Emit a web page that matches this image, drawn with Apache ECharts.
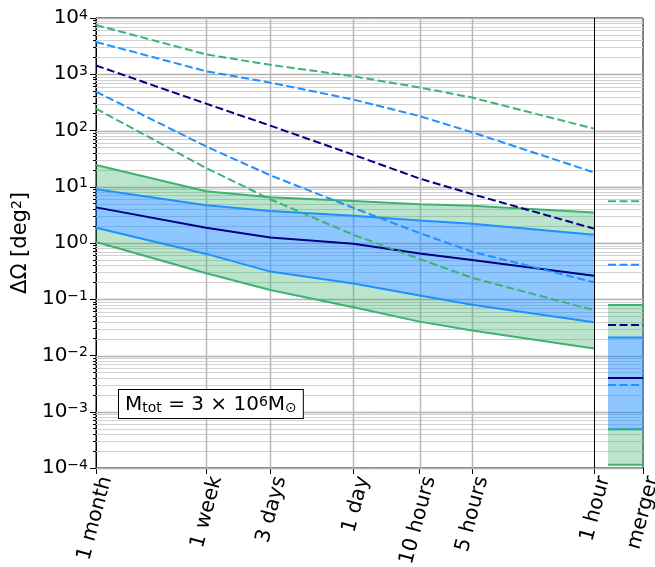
<!DOCTYPE html>
<html><head><meta charset="utf-8">
<script src="https://cdn.jsdelivr.net/npm/echarts@6/dist/echarts.min.js"></script>
<style>html,body{margin:0;padding:0;background:#fff}#c{width:655px;height:567px}</style>
</head><body><div id="c"></div><script>
// ---- data ----
const hours = [720, 168, 72, 24, 10, 5, 1];
const tickHours = [720, 168, 72, 24, 10, 5, 1];
const tickLabels = ['1 month', '1 week', '3 days', '1 day', '10 hours', '5 hours', '1 hour'];
const mergerLabel = 'merger';

const greenUpper = [24.3, 8.3, 6.5, 5.6, 4.9, 4.6, 3.5];
const blueUpper  = [9.0, 4.7, 3.7, 3.05, 2.5, 2.2, 1.40];
const navySolid  = [4.3, 1.87, 1.25, 0.97, 0.65, 0.50, 0.262];
const blueLower  = [1.87, 0.64, 0.31, 0.19, 0.117, 0.080, 0.039];
const greenLower = [1.04, 0.29, 0.146, 0.072, 0.040, 0.0278, 0.0133];

const greenDashUpper = [7500, 2250, 1470, 920, 580, 385, 108];
const blueDashUpper  = [3750, 1130, 710, 355, 180, 93, 18];
const navyDash       = [1430, 300, 122, 37, 14, 7.4, 1.8];
const blueDashLower  = [490, 52, 16, 4.2, 1.5, 0.70, 0.20];
const greenDashLower = [245, 21.5, 6.0, 1.4, 0.52, 0.24, 0.064];

// merger values
const mergerGreenBand = [0.000114, 0.079];
const mergerBlueBand  = [0.00049, 0.021];
const mergerNavySolid = 0.0040;
const mergerNavyDash  = 0.035;
const mergerBlueDash  = [0.41, 0.0030];
const mergerGreenDash = [5.5, 0.00049];

// ---- layout constants ----
const X_END = 0.523;        // right edge of merger panel (axis units)
const MERGER_START = 0.83;  // where merger marks begin
const GREEN = '#3cb371', BLUE = '#1e90ff', NAVY = '#000080';
const GREEN_FILL = 'rgba(60,179,113,0.35)', BLUE_FILL = 'rgba(30,144,255,0.5)';
const FONT = 'DejaVu Sans';

const decades = [1e-4, 1e-3, 1e-2, 1e-1, 1, 10, 100, 1000, 10000];
const minorVals = [];
for (let e = -4; e < 4; e++) for (let m = 2; m <= 9; m++) minorVals.push(m * Math.pow(10, e));

const pairs = (ys) => hours.map((h, i) => [h, ys[i]]);
const mpair = (v) => [[MERGER_START, v], [X_END, v]];

function band(xs, lo, hi, color) {
  return {
    type: 'custom', silent: true, z: 2, data: [[xs[0], lo[0]]],
    renderItem: (params, api) => {
      const pts = [];
      for (let i = 0; i < xs.length; i++) pts.push(api.coord([xs[i], hi[i]]));
      for (let i = xs.length - 1; i >= 0; i--) pts.push(api.coord([xs[i], lo[i]]));
      return { type: 'polygon', shape: { points: pts }, style: { fill: color } };
    }
  };
}
function hGrid(vals, color, width) {
  return {
    type: 'custom', silent: true, z: 1, data: vals.map(v => [1, v]),
    renderItem: (params, api) => {
      const cs = params.coordSys; const p = api.coord([1, api.value(1)]);
      const y = Math.round(p[1]) + 0.5;
      return { type: 'line', shape: { x1: cs.x, y1: y, x2: cs.x + cs.width, y2: y }, style: { stroke: color, lineWidth: width } };
    }
  };
}
function vGrid(vals, color, width, z) {
  return {
    type: 'custom', silent: true, z: z, data: vals.map(v => [v, 1]),
    renderItem: (params, api) => {
      const cs = params.coordSys; const p = api.coord([api.value(0), 1]);
      const x = Math.round(p[0]) + 0.5;
      return { type: 'line', shape: { x1: x, y1: cs.y, x2: x, y2: cs.y + cs.height }, style: { stroke: color, lineWidth: width } };
    }
  };
}
function line(data, color, dashed) {
  return {
    type: 'line', data: data, symbol: 'none', silent: true, z: 3, animation: false,
    lineStyle: { color: color, width: 2, type: dashed ? [8, 3.5] : 'solid' }
  };
}

const mergerXs = [MERGER_START, X_END];
const series = [
  hGrid(minorVals, '#d0d0d0', 1),
  hGrid(decades, '#b0b0b0', 1.5),
  vGrid([168, 72, 24, 10, 5], '#b8b8b8', 1.5, 1),
  band(hours, greenLower, blueLower, GREEN_FILL),
  band(hours, blueLower, blueUpper, BLUE_FILL),
  band(hours, blueUpper, greenUpper, GREEN_FILL),
  band(mergerXs, [mergerGreenBand[0], mergerGreenBand[0]], [mergerBlueBand[0], mergerBlueBand[0]], GREEN_FILL),
  band(mergerXs, [mergerBlueBand[0], mergerBlueBand[0]], [mergerBlueBand[1], mergerBlueBand[1]], BLUE_FILL),
  band(mergerXs, [mergerBlueBand[1], mergerBlueBand[1]], [mergerGreenBand[1], mergerGreenBand[1]], GREEN_FILL),
  vGrid([1], '#000', 1, 4),
  line(pairs(greenUpper), GREEN), line(pairs(greenLower), GREEN),
  line(pairs(blueUpper), BLUE), line(pairs(blueLower), BLUE),
  line(pairs(navySolid), NAVY),
  line(pairs(greenDashUpper), GREEN, true), line(pairs(greenDashLower), GREEN, true),
  line(pairs(blueDashUpper), BLUE, true), line(pairs(blueDashLower), BLUE, true),
  line(pairs(navyDash), NAVY, true),
  line(mpair(mergerGreenBand[0]), GREEN), line(mpair(mergerGreenBand[1]), GREEN),
  line(mpair(mergerBlueBand[0]), BLUE), line(mpair(mergerBlueBand[1]), BLUE),
  line(mpair(mergerNavySolid), NAVY),
  line(mpair(mergerGreenDash[0]), GREEN, true), line(mpair(mergerGreenDash[1]), GREEN, true),
  line(mpair(mergerBlueDash[0]), BLUE, true), line(mpair(mergerBlueDash[1]), BLUE, true),
  line(mpair(mergerNavyDash), NAVY, true)
];

const xTickVals = tickHours.concat([X_END]);
const xTickText = tickLabels.concat([mergerLabel]);
function xLabel(v) {
  let best = 0, bd = Infinity;
  xTickVals.forEach((t, i) => { const d = Math.abs(Math.log10(t) - Math.log10(v)); if (d < bd) { bd = d; best = i; } });
  return xTickText[best];
}
function yLabel(v) {
  const e = Math.round(Math.log10(v));
  return '10{sup|' + (e < 0 ? '\u2212' + (-e) : e) + '}';
}

const chart = echarts.init(document.getElementById('c'), null, { renderer: 'canvas' });
chart.setOption({
  animation: false,
  backgroundColor: '#fff',
  grid: { left: 96, right: 12, top: 18, bottom: 99, show: true, borderColor: '#000', borderWidth: 1, backgroundColor: 'transparent',
          containLabel: false, outerBoundsMode: 'none' },
  xAxis: {
    type: 'log', logBase: 10, inverse: true, min: X_END, max: 720,
    axisLine: { show: true, lineStyle: { color: '#000', width: 1 } },
    axisTick: { show: true, customValues: xTickVals, length: 6, lineStyle: { color: '#000', width: 1 } },
    axisLabel: { customValues: xTickVals, formatter: xLabel, rotate: 75, fontSize: 20.5, fontFamily: FONT, color: '#000', margin: 6, verticalAlign: 'top' },
    splitLine: { show: false }, minorTick: { show: false }
  },
  yAxis: [{
    type: 'log', logBase: 10, min: 1e-4, max: 1e4,
    name: '\u0394\u03a9 [deg{sup|2}]', nameLocation: 'middle', nameGap: 58,
    nameTextStyle: { fontSize: 21, fontFamily: FONT, color: '#000', rich: { sup: { fontSize: 14, fontFamily: FONT, verticalAlign: 'top', color: '#000' } } },
    axisLine: { show: true, lineStyle: { color: '#000', width: 1 } },
    axisTick: { show: true, customValues: decades, length: 6, lineStyle: { color: '#000', width: 1 } },
    axisLabel: { customValues: decades, formatter: yLabel, fontSize: 20, fontFamily: FONT, color: '#000', margin: 8,
      rich: { sup: { fontSize: 14, fontFamily: FONT, verticalAlign: 'top', color: '#000' } } },
    splitLine: { show: false }
  }, {
    type: 'log', logBase: 10, min: 1e-4, max: 1e4, position: 'left',
    axisLine: { show: false }, axisLabel: { show: false },
    axisTick: { show: true, customValues: minorVals, length: 3, lineStyle: { color: '#000', width: 1 } },
    splitLine: { show: false }
  }],
  graphic: [{
    type: 'text', left: 118, top: 389, z: 100,
    style: {
      text: 'M{sub|tot} = 3 \u00d7 10{sup|6}M{sub|\u2299}',
      fontSize: 20, fontFamily: FONT, fill: '#000',
      backgroundColor: '#fff', borderColor: '#000', borderWidth: 1, padding: [5, 6, 3, 6],
      rich: { sub: { fontSize: 14, fontFamily: FONT, verticalAlign: 'bottom' }, sup: { fontSize: 14, fontFamily: FONT, verticalAlign: 'top' } }
    }
  }],
  series: series
});
</script></body></html>
